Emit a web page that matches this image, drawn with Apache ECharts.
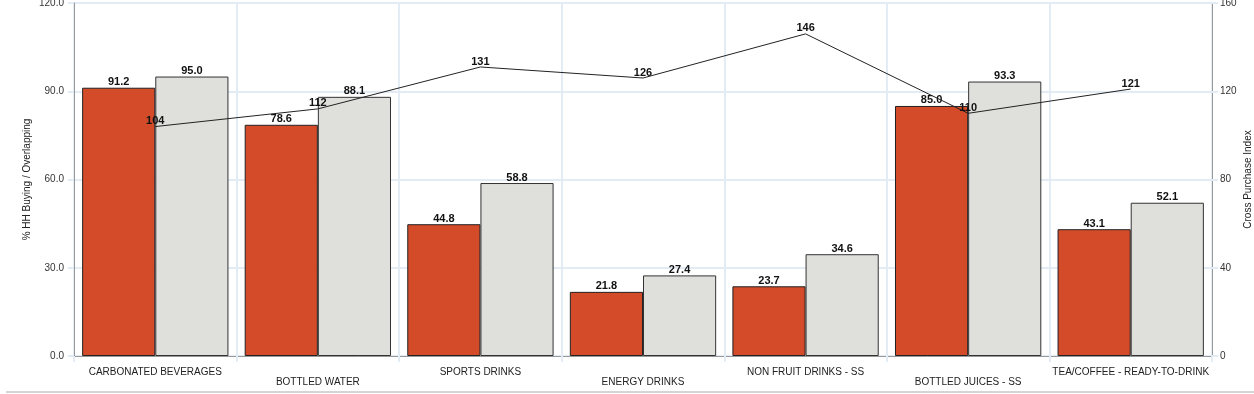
<!DOCTYPE html>
<html><head><meta charset="utf-8">
<script src="https://cdn.jsdelivr.net/npm/echarts@6/dist/echarts.min.js"></script>
<style>html,body{margin:0;padding:0;background:#fff}#c{width:1254px;height:394px}</style>
</head><body><div id="c"></div>
<script>
const categories = ['CARBONATED BEVERAGES','BOTTLED WATER','SPORTS DRINKS','ENERGY DRINKS','NON FRUIT DRINKS - SS','BOTTLED JUICES - SS','TEA/COFFEE - READY-TO-DRINK'];
const hhBuying = [91.2, 78.6, 44.8, 21.8, 23.7, 85.0, 43.1];
const overlapping = [95.0, 88.1, 58.8, 27.4, 34.6, 93.3, 52.1];
const crossIndex = [104, 112, 131, 126, 146, 110, 121];
const leftTicks = [0, 30, 60, 90, 120];
const rightTicks = [0, 40, 80, 120, 160];

const font = 'Arial, "Liberation Sans", sans-serif';
const chart = echarts.init(document.getElementById('c'), null, {renderer:'canvas'});
const gridColor = '#e3ebf4';
const barLabel = {show: true, position: 'top', distance: 0, color: '#111', fontWeight: 'bold', fontSize: 11, fontFamily: font,
  formatter: p => Number(p.value).toFixed(1)};
chart.setOption({
  animation: false,
  textStyle: {fontFamily: font},
  grid: {left: 74, right: 42, top: 3, bottom: 38, containLabel: false, outerBoundsMode: 'none'},
  graphic: [{type:'line', shape:{x1:6, y1:392, x2:1254, y2:392}, style:{stroke:'#aaaaaa', lineWidth:1}}],
  xAxis: {
    type: 'category', data: categories,
    axisLine: {show: true, lineStyle: {color: '#999', width: 1}},
    axisTick: {show: true, alignWithLabel: false, length: 6, lineStyle: {color: gridColor, width: 2}},
    splitLine: {show: true, lineStyle: {color: gridColor, width: 2}},
    axisLabel: {interval: 0, color: '#222', fontSize: 10, fontFamily: font, margin: 11, lineHeight: 10,
      formatter: (v, i) => (i % 2 === 1 ? '\n' + v : v)}
  },
  yAxis: [{
    type: 'value', min: 0, max: 120, interval: 30,
    name: '% HH Buying / Overlapping', nameLocation: 'middle', nameGap: 42, nameMoveOverlap: false,
    nameTextStyle: {color: '#222', fontSize: 10, fontFamily: font},
    axisLine: {show: true, lineStyle: {color: '#999'}},
    axisTick: {show: true, length: 6, lineStyle: {color: gridColor, width: 2}},
    splitLine: {show: true, lineStyle: {color: gridColor, width: 2}},
    axisLabel: {color: '#333', fontSize: 10, fontFamily: font, margin: 10, formatter: v => v.toFixed(1)}
  }, {
    type: 'value', min: 0, max: 160, interval: 40, position: 'right',
    name: 'Cross Purchase Index', nameLocation: 'middle', nameGap: 31, nameMoveOverlap: false,
    nameTextStyle: {color: '#222', fontSize: 10, fontFamily: font},
    axisLine: {show: true, lineStyle: {color: '#999'}},
    axisTick: {show: true, length: 6, lineStyle: {color: gridColor, width: 2}},
    splitLine: {show: false},
    axisLabel: {color: '#333', fontSize: 10, fontFamily: font, margin: 8}
  }],
  series: [{
    type: 'bar', data: hhBuying, barGap: '0%', barCategoryGap: '10%',
    itemStyle: {color: '#d44b2a', borderColor: '#222', borderWidth: 1},
    label: barLabel
  }, {
    type: 'bar', data: overlapping,
    itemStyle: {color: '#dfe0dc', borderColor: '#333', borderWidth: 1},
    label: barLabel
  }, {
    type: 'line', yAxisIndex: 1, data: crossIndex, showSymbol: true, symbol: 'circle', symbolSize: 2,
    itemStyle: {color: 'rgba(0,0,0,0)'},
    lineStyle: {color: '#222', width: 1}, z: 5,
    label: {show: true, position: 'top', distance: -1, color: '#111', fontWeight: 'bold', fontSize: 11, fontFamily: font}
  }]
});
</script></body></html>
